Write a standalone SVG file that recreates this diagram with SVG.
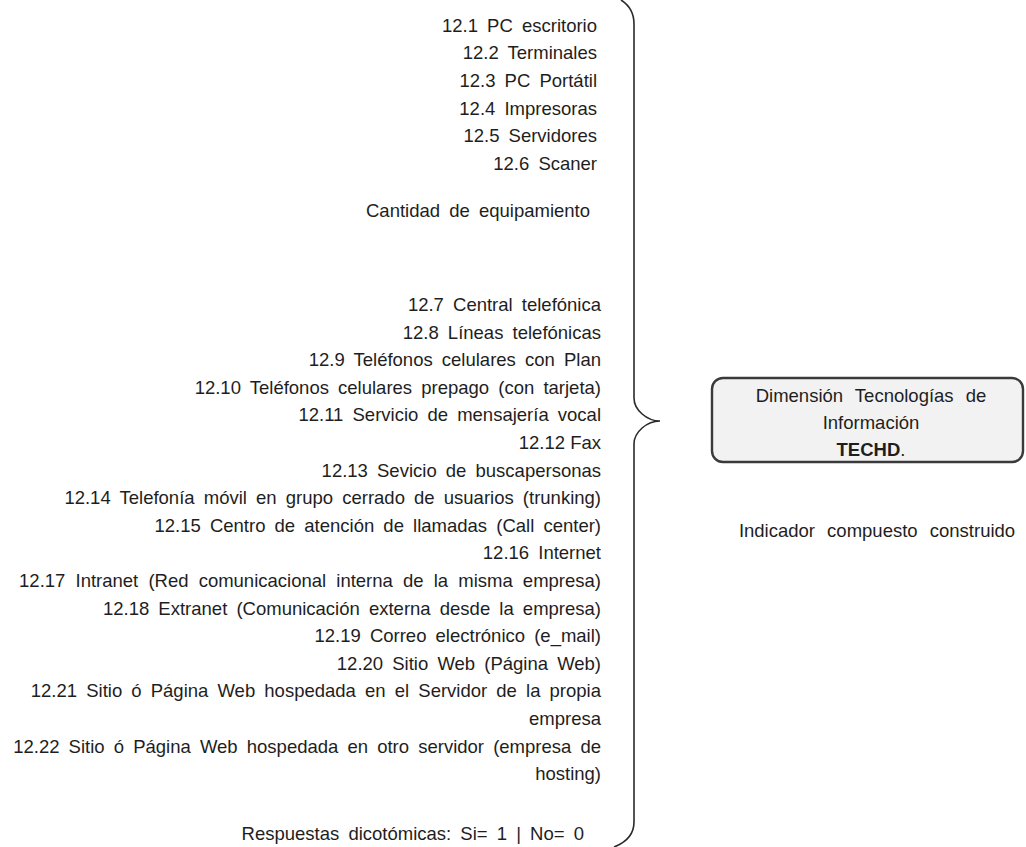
<svg xmlns="http://www.w3.org/2000/svg" width="1026" height="847" viewBox="0 0 1026 847">
  <style>
    .t { font-family: "Liberation Sans", Arial, sans-serif; font-size: 18.5px; fill: #1e1e1e; word-spacing: 4px; }
    .r { text-anchor: end; }
    .c { text-anchor: middle; }
    .brace { fill: none; stroke: #2a2a2a; stroke-width: 1.6; }
    .box { fill: #f2f2f2; stroke: #3a3a3a; stroke-width: 2.4; }
  </style>
  <rect width="1026" height="847" fill="#ffffff"/>

  <!-- equipment counts -->
  <g id="equipamiento">
    <text class="t r" x="597" y="31.7">12.1 PC escritorio</text>
    <text class="t r" x="597" y="58.5">12.2 Terminales</text>
    <text class="t r" x="597" y="86.5">12.3 PC Portátil</text>
    <text class="t r" x="597" y="114.5">12.4 Impresoras</text>
    <text class="t r" x="597" y="141.7">12.5 Servidores</text>
    <text class="t r" x="597" y="169.5">12.6 Scaner</text>
    <text class="t r" x="590" y="217">Cantidad de equipamiento</text>
  </g>

  <!-- dichotomous items -->
  <g id="dicotomicas">
    <text class="t r" x="601" y="311">12.7 Central telefónica</text>
    <text class="t r" x="601" y="338.6">12.8 Líneas telefónicas</text>
    <text class="t r" x="601" y="366.2">12.9 Teléfonos celulares con Plan</text>
    <text class="t r" x="601" y="393.8">12.10 Teléfonos celulares prepago (con tarjeta)</text>
    <text class="t r" x="601" y="421.4">12.11 Servicio de mensajería vocal</text>
    <text class="t r" x="601" y="449" style="word-spacing:0">12.12 Fax</text>
    <text class="t r" x="601" y="476.6">12.13 Sevicio de buscapersonas</text>
    <text class="t r" x="601" y="504.2">12.14 Telefonía móvil en grupo cerrado de usuarios (trunking)</text>
    <text class="t r" x="601" y="531.8">12.15 Centro de atención de llamadas (Call center)</text>
    <text class="t r" x="601" y="559.4">12.16 Internet</text>
    <text class="t r" x="601" y="587" style="word-spacing:5px">12.17 Intranet (Red comunicacional interna de la misma empresa)</text>
    <text class="t r" x="601" y="614.6">12.18 Extranet (Comunicación externa desde la empresa)</text>
    <text class="t r" x="601" y="642.2">12.19 Correo electrónico (e_mail)</text>
    <text class="t r" x="601" y="669.8">12.20 Sitio Web (Página Web)</text>
    <text class="t r" x="601" y="697.4">12.21 Sitio ó Página Web hospedada en el Servidor de la propia</text>
    <text class="t r" x="601" y="725">empresa</text>
    <text class="t r" x="601" y="752.6">12.22 Sitio ó Página Web hospedada en otro servidor (empresa de</text>
    <text class="t r" x="601" y="780.2">hosting)</text>
    <text class="t r" x="584" y="840">Respuestas dicotómicas:  Si= 1  |  No= 0</text>
  </g>

  <!-- curly brace grouping all items -->
  <g id="connectors">
    <path class="brace" d="M 621 0 C 629 5, 634 13, 634 24 L 634 398 C 634 410, 647 421, 660 421 C 647 421, 634 432, 634 444 L 634 822 C 634 834, 627 842, 614 847"/>
  </g>

  <!-- composite indicator -->
  <g id="techd">
    <rect class="box" x="712" y="378" width="311" height="84" rx="11"/>
    <text class="t c" x="871" y="402" style="word-spacing:7px">Dimensión Tecnologías de</text>
    <text class="t c" x="871" y="428.5">Información</text>
    <text class="t c" x="871" y="456"><tspan font-weight="bold">TECHD</tspan>.</text>
  </g>

  <g id="indicador">
    <text class="t c" x="877" y="537" style="word-spacing:7px">Indicador compuesto construido</text>
  </g>
</svg>
